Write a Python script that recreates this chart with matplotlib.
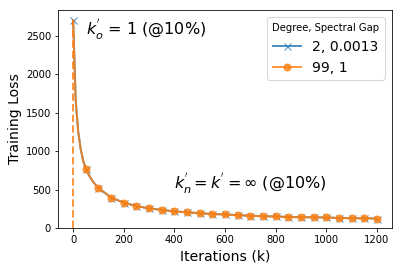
import matplotlib
matplotlib.use('Agg')
import matplotlib.pyplot as plt

iters = [0, 10, 20, 30, 40, 50, 60, 70, 80, 90, 100, 150, 200, 250, 300, 350, 400,
         450, 500, 550, 600, 650, 700, 750, 800, 850, 900, 950, 1000, 1050, 1100,
         1150, 1200]
loss_d2 = [2700, 1650, 1250, 1020, 870, 770, 700, 645, 595, 555, 520, 395, 330, 285,
           255, 235, 215, 205, 192, 182, 176, 167, 160, 153, 150, 143, 141, 139, 137,
           130, 128, 126, 123]
loss_d99 = [2700, 1650, 1250, 1020, 870, 770, 700, 645, 595, 555, 520, 395, 330, 285,
            255, 235, 215, 205, 192, 182, 176, 167, 160, 153, 150, 143, 141, 139, 137,
            130, 128, 126, 123]
labels = ['2, 0.0013', '99, 1']

# markers only every 50k iterations
mark_d2 = [i for i, it in enumerate(iters) if it % 50 == 0]
mark_d99 = [i for i, it in enumerate(iters) if it % 50 == 0 and it > 0]

fig, ax = plt.subplots(figsize=(402 / 72, 270 / 72), dpi=72)
fig.subplots_adjust(left=58 / 402, right=392 / 402, top=1 - 10 / 270, bottom=1 - 228 / 270)

ax.plot(iters, loss_d2, marker='x', color='C0', alpha=0.8, linewidth=2, markersize=7,
        markevery=mark_d2, label=labels[0])
ax.plot(iters, loss_d99, marker='o', color='C1', alpha=0.8, linewidth=2, markersize=7,
        markevery=mark_d99, label=labels[1])
ax.vlines(iters[0], 0, loss_d99[0], colors='C1', linestyles='--', alpha=0.8, linewidth=2)

ax.text(50, 2500, r"$k^{'}_o$ = 1 (@10%)", fontsize=16)
ax.text(400, 500, r"$k^{'}_n = k^{'} = \infty$ (@10%)", fontsize=16)

ax.set_ylim(bottom=0)
ax.set_xlabel('Iterations (k)', fontsize=14)
ax.set_ylabel('Training Loss', fontsize=14)
ax.legend(title='Degree, Spectral Gap', fontsize=14, loc='upper right')

plt.savefig('out.png')
